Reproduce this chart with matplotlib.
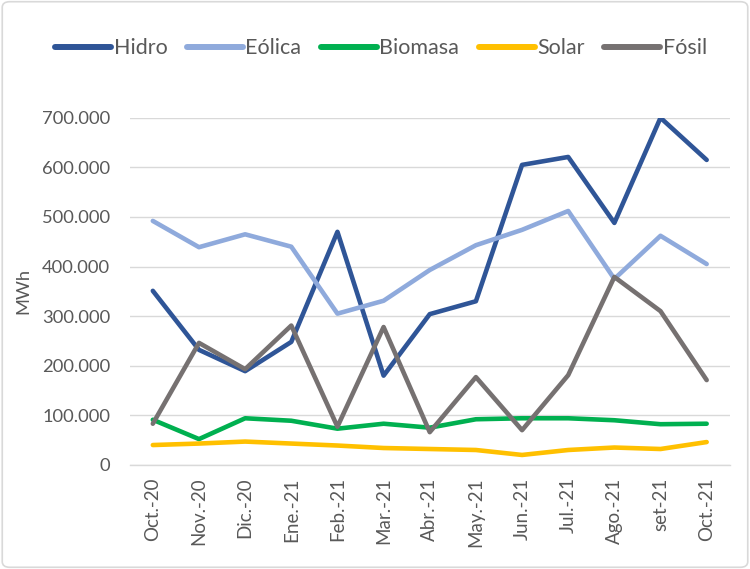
import matplotlib
matplotlib.use("Agg")
import matplotlib.pyplot as plt
from matplotlib.ticker import FuncFormatter, MultipleLocator
from matplotlib.patches import FancyBboxPatch

months = ["Oct.-20", "Nov.-20", "Dic.-20", "Ene.-21", "Feb.-21", "Mar.-21", "Abr.-21",
          "May.-21", "Jun.-21", "Jul.-21", "Ago.-21", "set-21", "Oct.-21"]
hidro = [351000, 232000, 189000, 248000, 470000, 180000, 304000, 330000, 605000, 621000, 488000, 700000, 615000]
eolica = [492000, 439000, 465000, 440000, 305000, 331000, 393000, 443000, 474000, 512000, 375000, 462000, 405000]
biomasa = [91000, 52000, 94000, 89000, 73000, 83000, 75000, 92000, 94000, 94000, 90000, 82000, 83000]
solar = [40000, 43000, 47000, 43000, 39000, 34000, 32000, 30000, 20000, 30000, 35000, 32000, 46000]
fosil = [83000, 246000, 193000, 281000, 77000, 278000, 66000, 177000, 70000, 181000, 379000, 310000, 171000]

series = [("Hidro", hidro, "#2F5597"), ("Eólica", eolica, "#8FAADC"),
          ("Biomasa", biomasa, "#00B050"), ("Solar", solar, "#FFC000"),
          ("Fósil", fosil, "#767171")]

plt.rcParams['font.family'] = ['Lato', 'DejaVu Sans']
txt = "#595959"

fig = plt.figure(figsize=(7.5, 5.69), dpi=100)
ax = fig.add_axes([0.173, 0.183, 0.8, 0.61])

x = list(range(len(months)))
for name, vals, col in series:
    ax.plot(x, vals, color=col, lw=3.3, label=name, solid_capstyle='round', solid_joinstyle='round')

ax.set_xlim(-0.5, len(months) - 0.5)
ax.set_ylim(0, 700000)
ax.yaxis.set_major_locator(MultipleLocator(100000))
ax.yaxis.set_major_formatter(FuncFormatter(lambda v, p: f"{int(v):,}".replace(",", ".")))
ax.set_xticks(x)
ax.set_xticklabels(months, rotation=90, fontsize=13.5, color=txt)
ax.tick_params(axis='y', labelsize=13.2, colors=txt, length=0, pad=14)
ax.tick_params(axis='x', length=0, pad=9, colors=txt)
ax.grid(axis='y', color='#D9D9D9', lw=1)
ax.set_axisbelow(True)
for s in ['top', 'right', 'left']:
    ax.spines[s].set_visible(False)
ax.spines['bottom'].set_color('#D9D9D9')
ax.spines['bottom'].set_linewidth(1)
ax.set_ylabel("MWh", fontsize=13.2, color=txt, labelpad=8)

leg = fig.legend(loc='center', bbox_to_anchor=(0.508, 0.915), ncol=5, frameon=False,
                 fontsize=15.5, handlelength=2.6, handletextpad=0.12, columnspacing=0.9)
for t in leg.get_texts():
    t.set_color(txt)
for h in leg.get_lines():
    h.set_linewidth(4.3)

border = FancyBboxPatch((0.003, 0.003), 0.994, 0.994, boxstyle="round,pad=0,rounding_size=0.01",
                        transform=fig.transFigure, fill=False, edgecolor='#D9D9D9', lw=1.2)
fig.patches.append(border)

fig.savefig("out.png", dpi=100)
